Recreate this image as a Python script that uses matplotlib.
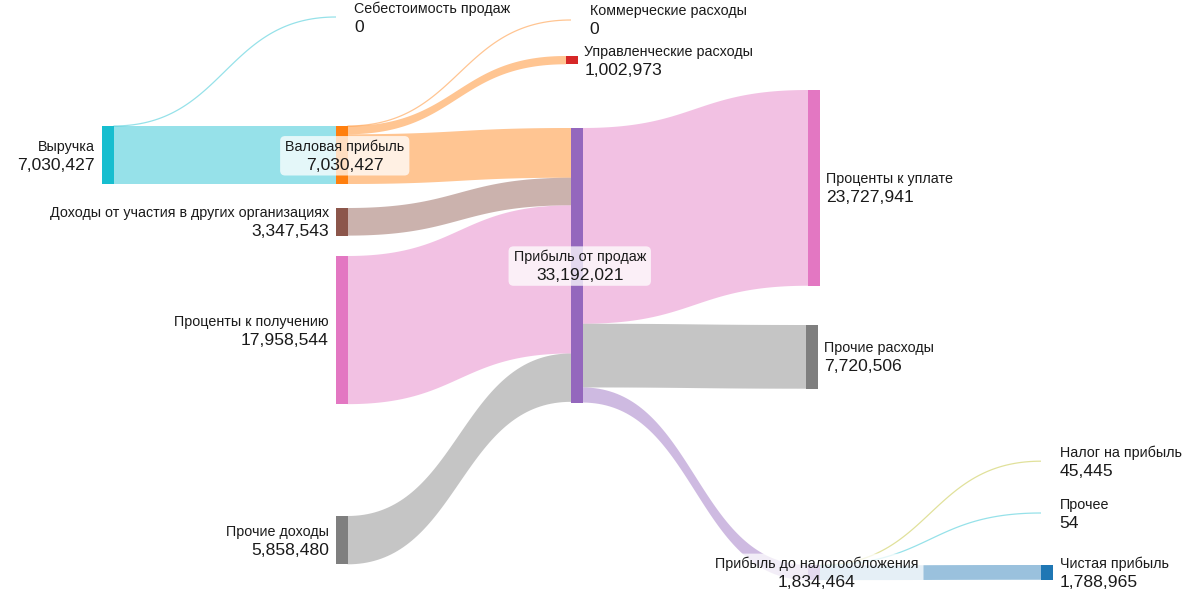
import numpy as np
import matplotlib
matplotlib.use("Agg")
import matplotlib.pyplot as plt
from matplotlib.patches import Polygon, Rectangle, FancyBboxPatch
from matplotlib.colors import to_rgba

plt.rcParams['font.family'] = ['Liberation Sans', 'DejaVu Sans']

# --- data ---
labels = ["Выручка", "Себестоимость продаж", "Валовая прибыль", "Коммерческие расходы",
          "Управленческие расходы", "Доходы от участия в других организациях",
          "Проценты к получению", "Прочие доходы", "Прибыль от продаж",
          "Проценты к уплате", "Прочие расходы", "Прибыль до налогообложения",
          "Налог на прибыль", "Прочее", "Чистая прибыль"]
node_values = [7030427, 0, 7030427, 0, 1002973, 3347543, 17958544, 5858480, 33192021,
               23727941, 7720506, 1834464, 45445, 54, 1788965]

sources = [0, 0, 2, 2, 2, 5, 6, 7, 8, 8, 8, 11, 11, 11]
targets = [1, 2, 3, 4, 8, 8, 8, 8, 9, 10, 11, 12, 13, 14]
link_values = [0, 7030427, 0, 1002973, 6027454, 3347543, 17958544, 5858480,
               23727941, 7720506, 1834464, 45445, 54, 1788965]

# --- layout / style ---
node_colors = ['#17becf', '#17becf', '#ff7f0e', '#ff7f0e', '#d62728', '#8c564b', '#e377c2',
               '#7f7f7f', '#9467bd', '#e377c2', '#7f7f7f', '#9467bd', '#bcbd22', '#17becf',
               '#1f77b4']
link_colors = ['#17becf', '#17becf', '#ff7f0e', '#ff7f0e', '#ff7f0e', '#8c564b', '#e377c2',
               '#7f7f7f', '#e377c2', '#7f7f7f', '#9467bd', '#bcbd22', '#17becf', '#1f77b4']
node_x = [102, 336, 336, 571, 566, 336, 336, 336, 571, 808, 806, 808, 1041, 1041, 1041]
node_top = [126, 17, 126, 20, 56, 208, 256, 516, 128, 90, 325, 565, 461, 513, 565]
label_side = ['L', 'R', 'C', 'R', 'R', 'L', 'L', 'L', 'C', 'R', 'R', 'C', 'R', 'R', 'R']
node_w = 11.5
px_per_unit = 58.0 / 7030427

fig = plt.figure(figsize=(12, 6), dpi=100)
ax = fig.add_axes([0, 0, 1, 1])
ax.set_xlim(0, 1200)
ax.set_ylim(600, 0)
ax.axis('off')

n = len(labels)
inflow = np.zeros(n)
outflow = np.zeros(n)
for s, t, v in zip(sources, targets, link_values):
    outflow[s] += v
    inflow[t] += v
heights = np.maximum(inflow, outflow) * px_per_unit


def curve(x0, y0, x1, y1, t):
    xm = (x0 + x1) / 2
    x = (1-t)**3*x0 + 3*(1-t)**2*t*xm + 3*(1-t)*t**2*xm + t**3*x1
    y = (1-t)**3*y0 + 3*(1-t)**2*t*y0 + 3*(1-t)*t**2*y1 + t**3*y1
    return x, y


t = np.linspace(0, 1, 80)
out_off = np.array(node_top, dtype=float)
in_off = np.array(node_top, dtype=float)
for s, tg, v, c in zip(sources, targets, link_values, link_colors):
    w = v * px_per_unit
    y0 = out_off[s]
    y1 = in_off[tg]
    out_off[s] += w
    in_off[tg] += w
    x0 = node_x[s] + node_w
    x1 = node_x[tg]
    col = to_rgba(c, 0.45)
    if w < 1.0:
        xs, ys = curve(x0, y0 + w/2, x1, y1 + w/2, t)
        ax.plot(xs, ys, color=col, lw=0.9, solid_capstyle='butt')
    else:
        xt, yt = curve(x0, y0, x1, y1, t)
        xb, yb = curve(x0, y0 + w, x1, y1 + w, t)
        pts = np.column_stack([np.r_[xt, xb[::-1]], np.r_[yt, yb[::-1]]])
        ax.add_patch(Polygon(pts, closed=True, facecolor=col, edgecolor='none'))

for i in range(n):
    if heights[i] > 0:
        ax.add_patch(Rectangle((node_x[i], node_top[i]), node_w, heights[i],
                               facecolor=node_colors[i], edgecolor='none'))

fig.canvas.draw()
renderer = fig.canvas.get_renderer()
for i in range(n):
    cy = node_top[i] + heights[i] / 2
    side = label_side[i]
    if side == 'L':
        x, ha = node_x[i] - 7, 'right'
    elif side == 'R':
        x, ha = node_x[i] + node_w + 7, 'left'
    else:
        x, ha = node_x[i] + node_w / 2 + 3, 'center'
    t1 = ax.text(x, cy - 4.5, labels[i], ha=ha, va='baseline', fontsize=10.3, color='#1a1a1a', zorder=5)
    t2 = ax.text(x, cy + 14.5, f"{node_values[i]:,}", ha=ha, va='baseline', fontsize=12.6,
                 color='#1a1a1a', zorder=5)
    if side == 'C':
        bb1 = t1.get_window_extent(renderer)
        bb2 = t2.get_window_extent(renderer)
        inv = ax.transData.inverted()
        (ax0, ay0), (ax1, ay1) = inv.transform([[min(bb1.x0, bb2.x0), min(bb1.y0, bb2.y0)],
                                               [max(bb1.x1, bb2.x1), max(bb1.y1, bb2.y1)]])
        left, right = min(ax0, ax1) - 5, max(ax0, ax1) + 5
        top, bottom = min(ay0, ay1) - 3, max(ay0, ay1) + 3
        ax.add_patch(FancyBboxPatch((left, top), right - left, bottom - top,
                                    boxstyle="round,pad=0,rounding_size=5",
                                    facecolor=(1, 1, 1, 0.75), edgecolor='none', zorder=4))

fig.savefig("out.png", dpi=100)
